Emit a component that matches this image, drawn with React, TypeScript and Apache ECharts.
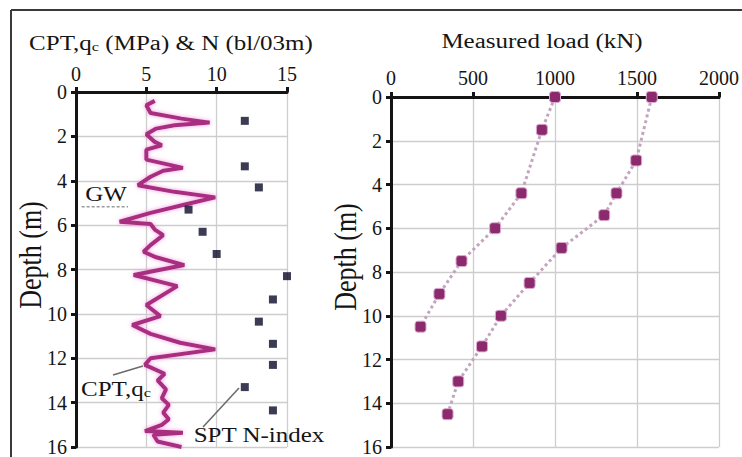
import React, { useEffect, useRef } from "react";
import * as echarts from "echarts";

// CPT cone resistance trace (MPa) vs depth (m)
const cptDepth = [0.4, 0.6, 0.95, 1.2, 1.38, 1.5, 1.65, 1.9, 2.25, 2.4, 2.6, 3.05, 3.42, 3.55, 3.82, 4.2, 4.5, 4.75, 5.05, 5.45, 5.85, 5.95, 6.2, 6.45, 6.9, 7.2, 7.45, 7.8, 8.25, 8.75, 9.6, 10.1, 10.5, 10.9, 11.3, 11.6, 12.0, 12.3, 12.7, 13.0, 13.4, 13.8, 14.1, 14.45, 14.75, 15.0, 15.28, 15.36, 15.45, 15.75, 16.0];
const cptQc = [5.6, 5.0, 5.3, 7.5, 9.5, 7.0, 5.7, 5.0, 5.6, 6.1, 5.0, 5.0, 7.6, 6.2, 5.3, 4.4, 7.0, 9.9, 7.9, 5.3, 3.1, 5.3, 5.6, 6.2, 5.3, 4.8, 5.7, 7.7, 4.1, 7.2, 5.0, 6.0, 4.0, 5.3, 7.4, 9.9, 5.3, 4.9, 6.3, 5.8, 6.4, 6.1, 6.6, 6.2, 6.6, 6.1, 4.9, 7.6, 5.5, 5.8, 7.5];

// SPT N-index
const sptDepth = [1.3, 3.35, 4.3, 5.3, 6.3, 7.3, 8.3, 9.35, 10.35, 11.35, 12.3, 13.3, 14.35];
const sptN = [12, 12, 13, 8, 9, 10, 15, 14, 13, 14, 14, 12, 14];

// Piles (drawn beside the CPT panel)
const pileX = [16.4, 17.6];
const pileLength = [10.9, 14.9];

// Ground water level
const gwDepth = 5.17;
const gwQcRange = [0.4, 3.7];

// Measured load profiles
const loadDepthA = [0, 1.5, 4.4, 6, 7.5, 9, 10.5];
const loadA = [1000, 920, 795, 635, 430, 295, 180];
const loadDepthB = [0, 2.9, 4.4, 5.4, 6.9, 8.5, 10, 11.4, 13, 14.5];
const loadB = [1590, 1495, 1375, 1300, 1040, 845, 670, 555, 410, 345];

// Tick values
const qcTickValues = [0, 5, 10, 15];
const loadTickValues = [0, 500, 1000, 1500, 2000];
const depthTickValues = [0, 2, 4, 6, 8, 10, 12, 14, 16];

const FONT = "Liberation Serif";
const TXT = "#151515";

function makeAxis(extra: any, ticks: number[], margin: number) {
  return {
    type: "value",
    min: ticks[0],
    max: ticks[ticks.length - 1],
    interval: ticks[1] - ticks[0],
    ...extra,
    axisLine: { show: true, onZero: false, lineStyle: { color: "#141414", width: 3 } },
    axisTick: { show: true, inside: false, length: 5, lineStyle: { color: "#141414", width: 3 } },
    splitLine: { show: true, lineStyle: { color: "#cdcdcd", width: 1.3 } },
    axisLabel: {
      show: true,
      fontFamily: FONT,
      fontSize: 20,
      color: TXT,
      margin,
      formatter: (v: number) => String(v),
    },
  };
}

function App() {
  const ref = useRef<HTMLDivElement>(null);
  useEffect(() => {
    document.body.style.margin = "0";
    if (!ref.current) return;
    const chart = echarts.init(ref.current, null, { renderer: "svg" });

    const titleText = (x: number, y: number, text: string, rich?: any, rot = 0) => ({
      type: "text",
      x,
      y,
      rotation: rot,
      scaleX: rot ? 1 : 1.25,
      scaleY: rot ? 1.2 : 1,
      z: 5,
      style: {
        text,
        fontFamily: FONT,
        fontSize: rot ? 26 : 20,
        fill: TXT,
        align: "center",
        verticalAlign: "middle",
        rich,
      },
    });
    const subRich = {
      a: { fontFamily: FONT, fontSize: 20, fill: TXT, verticalAlign: "bottom", lineHeight: 22 },
      b: { fontFamily: FONT, fontSize: 13, fill: TXT, verticalAlign: "bottom", lineHeight: 20 },
    };

    const option: any = {
      animation: false,
      backgroundColor: "#fff",
      textStyle: { fontFamily: FONT },
      grid: [
        { left: 76, top: 92, width: 211, height: 356 },
        { left: 391, top: 97, width: 329, height: 353 },
      ],
      xAxis: [
        makeAxis({ gridIndex: 0, position: "top" }, qcTickValues, 8),
        makeAxis({ gridIndex: 1, position: "top" }, loadTickValues, 9),
      ],
      yAxis: [
        makeAxis({ gridIndex: 0, inverse: true }, depthTickValues, 9),
        makeAxis({ gridIndex: 1, inverse: true }, depthTickValues, 9),
      ],
      series: [
        {
          type: "line",
          xAxisIndex: 0,
          yAxisIndex: 0,
          data: gwQcRange.map((q) => [q, gwDepth]),
          symbol: "none",
          lineStyle: { color: "#9a9a9a", width: 1.5, type: [3, 2] },
          z: 2,
        },
        {
          type: "line",
          xAxisIndex: 0,
          yAxisIndex: 0,
          data: cptQc.map((q, i) => [q, cptDepth[i]]),
          symbol: "none",
          lineStyle: { color: "#a82f80", width: 4, shadowColor: "rgba(240,130,215,0.8)", shadowBlur: 4 },
          z: 3,
        },
        {
          type: "scatter",
          xAxisIndex: 0,
          yAxisIndex: 0,
          data: sptN.map((n, i) => [n, sptDepth[i]]),
          symbol: "rect",
          symbolSize: 8,
          itemStyle: { color: "#0a0a28" },
          z: 4,
        },
        ...pileX.map((x, i) => ({
          type: "line",
          xAxisIndex: 0,
          yAxisIndex: 0,
          clip: false,
          data: [
            [x, 0],
            [x, pileLength[i]],
          ],
          symbol: "none",
          lineStyle: { color: "#808080", width: 7, cap: "butt" },
        })),
        ...[
          [loadA, loadDepthA],
          [loadB, loadDepthB],
        ].map(([loads, depths]) => ({
          type: "line",
          xAxisIndex: 1,
          yAxisIndex: 1,
          data: loads.map((l, i) => [l, depths[i]]),
          symbol: "roundRect",
          symbolSize: 11,
          clip: false,
          lineStyle: { color: "#c2a6bf", width: 3, type: "dotted" },
          itemStyle: { color: "#8b2a6d", borderColor: "#dcaad2", borderWidth: 1 },
          z: 3,
        })),
      ],
      graphic: [
        { type: "line", shape: { x1: 11, y1: 10, x2: 742, y2: 10 }, style: { stroke: "#3a3a3a", lineWidth: 2 } },
        { type: "line", shape: { x1: 11, y1: 10, x2: 11, y2: 457 }, style: { stroke: "#3a3a3a", lineWidth: 2 } },
        titleText(171, 42, "{a|CPT,q}{b|c}{a| (MPa) & N (bl/03m)}", subRich),
        titleText(542, 41, "Measured load (kN)"),
        titleText(30, 255, "Depth (m)", undefined, Math.PI / 2),
        titleText(345, 257, "Depth (m)", undefined, Math.PI / 2),
        titleText(106, 194, "GW"),
        titleText(116, 388, "{a|CPT,q}{b|c}", subRich),
        titleText(259, 435, "SPT N-index"),
        { type: "line", z: 5, shape: { x1: 113, y1: 375, x2: 143, y2: 366 }, style: { stroke: "#6a6a6a", lineWidth: 1.5 } },
        { type: "line", z: 5, shape: { x1: 203, y1: 427, x2: 239, y2: 388 }, style: { stroke: "#6a6a6a", lineWidth: 1.5 } },
      ],
    };
    chart.setOption(option);
    return () => chart.dispose();
  }, []);
  return <div ref={ref} style={{ width: 742, height: 457, background: "#fff" }} />;
}

export default App;
